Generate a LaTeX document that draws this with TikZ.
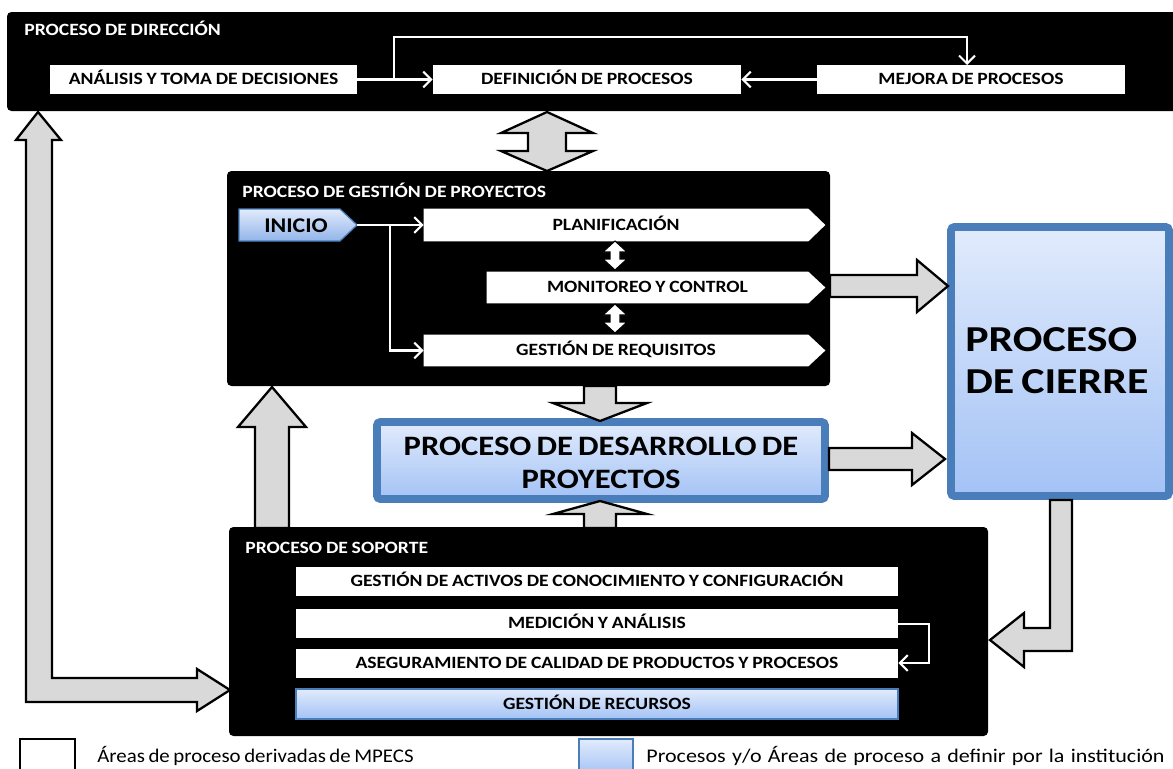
\documentclass[tikz,border=0pt]{standalone}
\usepackage{fontspec}
\setmainfont{Carlito}[FakeStretch=1.14,WordSpace=0.85]
\newfontfamily\bigf{Carlito}[FakeStretch=1.16,WordSpace=0.7]
\newfontfamily\hugef{Carlito}[FakeStretch=1.2,WordSpace=0.7]
\newfontfamily\legA{Carlito}[FakeStretch=1.08,WordSpace=0.75]
\newfontfamily\legB{Carlito}[FakeStretch=1.14,WordSpace=1.25]
\usetikzlibrary{arrows.meta,fit,calc}
\definecolor{bordblue}{HTML}{4A7EBB}
\definecolor{ltop}{HTML}{E1EBFC}
\definecolor{lbot}{HTML}{A3C2F5}
\definecolor{arrgray}{HTML}{D9D9D9}
\begin{document}
\begin{tikzpicture}[x=0.02cm,y=-0.02cm,
  blk/.style={fill=black, rounded corners=2.5pt, inner sep=0pt},
  wbox/.style={fill=white, inner sep=0pt},
  hid/.style={inner sep=0pt},
  lbl/.style={anchor=base, yshift=-3.1pt, inner sep=0pt, font=\bfseries\fontsize{9.8}{11}\selectfont},
  ttl/.style={text=white, anchor=base west, inner sep=0pt, font=\bfseries\fontsize{9.8}{11}\selectfont},
  bbox/.style={top color=ltop, bottom color=lbot, draw=bordblue, line width=4.5pt, rounded corners=2pt, inner sep=0pt},
  lbox/.style={top color=ltop, bottom color=lbot, draw=bordblue, line width=0.8pt, inner sep=0pt},
  barr/.style={fill=arrgray, draw=black, line width=1.3pt, line join=miter},
  sarr/.style={fill=white, draw=black, line width=0.6pt, line join=miter},
  warr/.style={draw=white, line width=1.2pt, -{Straight Barb[length=4.5pt,width=9pt]}},
  lgtxt/.style={anchor=base west, inner sep=0pt}
]
\useasboundingbox (0,0) rectangle (1173,768);

% ---------- PROCESO DE DIRECCION ----------
\node[blk, fit={(7,12) (1180,111)}] (dir) {};
\node[ttl] (dirt) at (24,35) {PROCESO DE DIRECCIÓN};
\node[wbox, fit={(50,65) (357,94)}] (ana) {};
\node[lbl] (anat) at (ana.center) {ANÁLISIS Y TOMA DE DECISIONES};
\node[wbox, fit={(433,65) (741,94)}] (def) {};
\node[lbl] (deft) at (def.center) {DEFINICIÓN DE PROCESOS};
\node[wbox, fit={(817,65) (1125,94)}] (mej) {};
\node[lbl] (mejt) at (mej.center) {MEJORA DE PROCESOS};
\draw[warr] (ana.east) -- (def.west);
\draw[warr] (mej.west) -- (def.east);
\coordinate (br1) at (394,80);
\coordinate (br2) at (394,37);
\coordinate (br3) at (967,37);
\coordinate (br4) at (967,65);
\draw[warr] (br1) -- (br2) -- (br3) -- (br4);

% ---------- PROCESO DE GESTION DE PROYECTOS ----------
\node[blk, fit={(227,171) (830,386)}] (gest) {};
\node[ttl] (gestt) at (242,197) {PROCESO DE GESTIÓN DE PROYECTOS};
% INICIO
\path[top color=ltop, bottom color=lbot!80!bordblue, draw=bordblue, line width=0.7pt]
  (239,209) -- (340,209) -- (357,225) -- (340,241) -- (239,241) -- cycle;
\node[anchor=base, inner sep=0pt, font=\bfseries\fontsize{11.9}{13}\selectfont] (ini) at (296,232) {INICIO};
\coordinate (initip) at (357,225);
% white pentagons
\node[hid, fit={(424,209) (808,241)}] (plan) {};
\fill[white] (plan.north west) -- (plan.north east) -- ($(plan.east)+(17,0)$) -- (plan.south east) -- (plan.south west) -- cycle;
\node[lbl] (plant) at (plan.center) {PLANIFICACIÓN};
\node[hid, fit={(487,272) (808,303)}] (mon) {};
\fill[white] (mon.north west) -- (mon.north east) -- ($(mon.east)+(17,0)$) -- (mon.south east) -- (mon.south west) -- cycle;
\node[lbl] (mont) at (mon.center) {MONITOREO Y CONTROL};
\node[hid, fit={(424,335) (808,366)}] (req) {};
\fill[white] (req.north west) -- (req.north east) -- ($(req.east)+(17,0)$) -- (req.south east) -- (req.south west) -- cycle;
\node[lbl] (reqt) at (req.center) {GESTIÓN DE REQUISITOS};
\draw[warr] (initip) -- (plan.west);
\coordinate (br5) at (390,225);
\draw[warr] (br5) |- (req.west);
% small double arrows
\draw[sarr] (615,241) -- (627,252) -- (620,252) -- (620,259) -- (627,259) -- (615,270)
  -- (603,259) -- (610,259) -- (610,252) -- (603,252) -- cycle;
\draw[sarr] (615,304) -- (627,315) -- (620,315) -- (620,322) -- (627,322) -- (615,333)
  -- (603,322) -- (610,322) -- (610,315) -- (603,315) -- cycle;

% ---------- PROCESO DE CIERRE ----------
\node[bbox, fit={(951,227) (1169,496)}] (cie) {};
\node[anchor=base west, inner sep=0pt, font=\hugef\bfseries\fontsize{20.8}{24}\selectfont] (ciet1) at (965,351) {PROCESO};
\node[anchor=base west, inner sep=0pt, font=\hugef\bfseries\fontsize{20.8}{24}\selectfont] (ciet2) at (965,393) {DE CIERRE};

% ---------- PROCESO DE DESARROLLO ----------
\node[bbox, fit={(377,422) (825,499)}] (des) {};
\node[anchor=base, inner sep=0pt, font=\bigf\bfseries\fontsize{16}{18.8}\selectfont] (dest1) at (601,455) {PROCESO DE DESARROLLO DE};
\node[anchor=base, inner sep=0pt, font=\bigf\bfseries\fontsize{16}{18.8}\selectfont] (dest2) at (601,488) {PROYECTOS};

% ---------- PROCESO DE SOPORTE ----------
\node[blk, fit={(229,527) (988,736)}] (sop) {};
\node[ttl] (sopt) at (245,553) {PROCESO DE SOPORTE};
\node[wbox, fit={(296,567) (898,596)}] (act) {};
\node[lbl] (actt) at (act.center) {GESTIÓN DE ACTIVOS DE CONOCIMIENTO Y CONFIGURACIÓN};
\node[wbox, fit={(296,609) (898,638)}] (med) {};
\node[lbl] (medt) at (med.center) {MEDICIÓN Y ANÁLISIS};
\node[wbox, fit={(296,649) (898,678)}] (ase) {};
\node[lbl] (aset) at (ase.center) {ASEGURAMIENTO DE CALIDAD DE PRODUCTOS Y PROCESOS};
\node[lbox, fit={(296,689) (898,719)}] (rec) {};
\node[lbl] (rect) at (rec.center) {GESTIÓN DE RECURSOS};
\coordinate (el1) at (929,624);
\coordinate (el2) at (929,663);
\draw[warr] (med.east |- el1) -- (el1) -- (el2) -- (ase.east |- el2);

% ---------- block arrows ----------
% Direccion <-> Gestion
\draw[barr] (547,112) -- (593,133) -- (566,133) -- (566,151) -- (593,151) -- (547,171)
  -- (501,151) -- (528,151) -- (528,133) -- (501,133) -- cycle;
% Gestion -> Desarrollo
\draw[barr] (584,386) -- (616,386) -- (616,403) -- (647,403) -- (600,421) -- (553,403) -- (584,403) -- cycle;
% Soporte -> Desarrollo
\draw[barr] (600,501) -- (647,514) -- (616,514) -- (616,528) -- (584,528) -- (584,514) -- (553,514) -- cycle;
% Soporte -> Gestion
\draw[barr] (272,387) -- (306,427) -- (289,427) -- (289,528) -- (255,528) -- (255,427) -- (238,427) -- cycle;
% Gestion -> Cierre
\draw[barr] (830,275) -- (917,275) -- (917,260) -- (948,286) -- (917,312) -- (917,297) -- (830,297) -- cycle;
% Desarrollo -> Cierre
\draw[barr] (829,448) -- (912,448) -- (912,433) -- (945,459) -- (912,485) -- (912,470) -- (829,470) -- cycle;
% Cierre -> Soporte
\draw[barr] (1050,500) -- (1072,500) -- (1072,651) -- (1024,651) -- (1024,667) -- (990,640)
  -- (1024,613) -- (1024,628) -- (1050,628) -- cycle;
% Soporte <-> Direccion (large)
\draw[barr] (38,112) -- (61,140) -- (52,140) -- (52,678) -- (197,678) -- (197,669) -- (230,690)
  -- (197,711) -- (197,702) -- (26,702) -- (26,140) -- (16,140) -- cycle;

% ---------- legend ----------
\node[draw=black, line width=0.6pt, inner sep=0pt, fit={(20,739) (75,775)}] (lg1) {};
\node[lgtxt, font=\legA\fontsize{11}{13}\selectfont] (lg1t) at (97,762) {Áreas de proceso derivadas de MPECS};
\node[lbox, fit={(579,739) (633,775)}] (lg2) {};
\node[lgtxt, font=\legB\fontsize{11}{13}\selectfont] (lg2t) at (646,762) {Procesos y/o Áreas de proceso a definir por la institución};
\end{tikzpicture}
\end{document}
